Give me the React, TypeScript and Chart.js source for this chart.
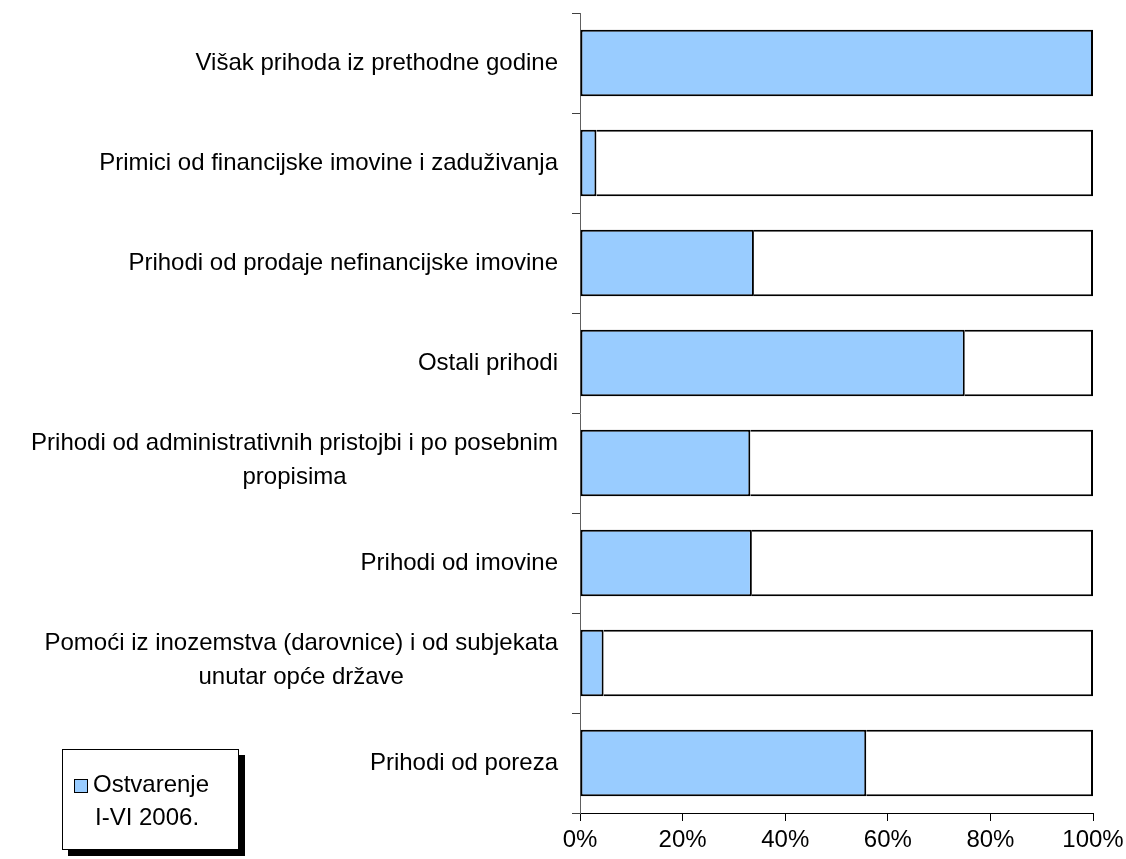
import React, { useEffect, useRef } from "react";
import { Chart, registerables } from "chart.js";

Chart.register(...registerables);

const categories: string[][] = [
  ["Višak prihoda iz prethodne godine"],
  ["Primici od financijske imovine i zaduživanja"],
  ["Prihodi od prodaje nefinancijske imovine"],
  ["Ostali prihodi"],
  ["Prihodi od administrativnih pristojbi i po posebnim", "propisima"],
  ["Prihodi od imovine"],
  ["Pomoći iz inozemstva (darovnice) i od subjekata", "unutar opće države"],
  ["Prihodi od poreza"],
];

const ostvarenje: number[] = [100, 3.2, 33.9, 75.0, 33.2, 33.5, 4.6, 55.8];
const ostatak: number[] = [0, 96.8, 66.1, 25.0, 66.8, 66.5, 95.4, 44.2];

const xTicks: number[] = [0, 20, 40, 60, 80, 100];

const seriesName = ["Ostvarenje", "I-VI 2006."];

const FONT = '"Liberation Sans", Arial, Helvetica, sans-serif';

const yLabelPlugin = {
  id: "yLabelsCentered",
  afterDraw(chart: any) {
    const ctx = chart.ctx;
    const s = chart.scales.y;
    ctx.save();
    ctx.font = `24px ${FONT}`;
    ctx.fillStyle = "#000";
    ctx.textBaseline = "middle";
    ctx.textAlign = "center";
    const right = s.right - 8 - 14;
    const lh = 34;
    categories.forEach((lines, i) => {
      const y = s.getPixelForValue(i);
      const w = Math.max(...lines.map((l) => ctx.measureText(l).width));
      const cx = right - w / 2;
      const y0 = y - ((lines.length - 1) * lh) / 2 - (lines.length > 1 ? 3 : 0);
      lines.forEach((l, j) => ctx.fillText(l, cx, y0 + j * lh));
    });
    ctx.restore();
  },
};

export default function App() {
  const ref = useRef<HTMLCanvasElement | null>(null);

  useEffect(() => {
    if (!ref.current) return;
    const chart = new Chart(ref.current, {
      type: "bar",
      data: {
        labels: categories.map((c) => c.join(" ")),
        datasets: [
          {
            label: seriesName.join(" "),
            data: ostvarenje,
            backgroundColor: "#99CCFF",
            borderColor: "#000000",
            borderWidth: 2,
            borderSkipped: false,
            barPercentage: 0.667,
            categoryPercentage: 1,
          },
          {
            label: "ostatak",
            data: ostatak,
            backgroundColor: "#FFFFFF",
            borderColor: "#000000",
            borderWidth: 2,
            borderSkipped: "start",
            barPercentage: 0.667,
            categoryPercentage: 1,
          },
        ],
      },
      options: {
        indexAxis: "y",
        responsive: false,
        animation: false,
        devicePixelRatio: 1,
        layout: { padding: { top: 13, right: 33, left: 0, bottom: 0 } },
        plugins: {
          legend: { display: false },
          tooltip: { enabled: false },
        },
        scales: {
          x: {
            type: "linear",
            stacked: true,
            min: 0,
            max: 100,
            afterBuildTicks: (scale: any) => {
              scale.ticks = xTicks.map((v) => ({ value: v }));
            },
            afterFit: (scale: any) => {
              scale.height = 46;
              scale.paddingRight = 0;
              scale.paddingLeft = 0;
            },
            grid: {
              drawOnChartArea: false,
              drawTicks: true,
              tickLength: 8,
              color: "#000",
              lineWidth: 1,
            },
            border: { display: true, color: "#000", width: 1 },
            ticks: {
              color: "#000",
              font: { family: FONT, size: 24 },
              padding: 5,
              maxRotation: 0,
              callback: (v: any) => `${v}%`,
            },
          },
          y: {
            type: "category",
            stacked: true,
            offset: true,
            afterFit: (scale: any) => {
              scale.width = 580;
            },
            grid: {
              offset: true,
              drawOnChartArea: false,
              drawTicks: true,
              tickLength: 8,
              color: "#404040",
              lineWidth: 1,
            },
            border: { display: true, color: "#606060", width: 1 },
            ticks: { display: false },
          },
        },
      },
      plugins: [yLabelPlugin],
    });
    return () => chart.destroy();
  }, []);

  return (
    <div style={{ position: "absolute", left: 0, top: 0, width: 1126, height: 859, background: "#fff" }}>
      <canvas ref={ref} width={1126} height={859} style={{ display: "block" }} />
      <div
        style={{
          position: "absolute",
          left: 62,
          top: 749,
          width: 175,
          height: 99,
          border: "1px solid #000",
          boxShadow: "6px 6px 0 #000",
          background: "#fff",
          fontFamily: FONT,
          fontSize: 24,
          color: "#000",
        }}
      >
        <div
          style={{
            position: "absolute",
            left: 11,
            top: 29,
            width: 14,
            height: 14,
            boxSizing: "border-box",
            border: "1px solid #000",
            background: "#99CCFF",
          }}
        />
        <div style={{ position: "absolute", left: 30, top: 20, lineHeight: "28px", whiteSpace: "nowrap" }}>
          {seriesName[0]}
        </div>
        <div style={{ position: "absolute", left: 32, top: 53, lineHeight: "28px", whiteSpace: "nowrap" }}>
          {seriesName[1]}
        </div>
      </div>
    </div>
  );
}
